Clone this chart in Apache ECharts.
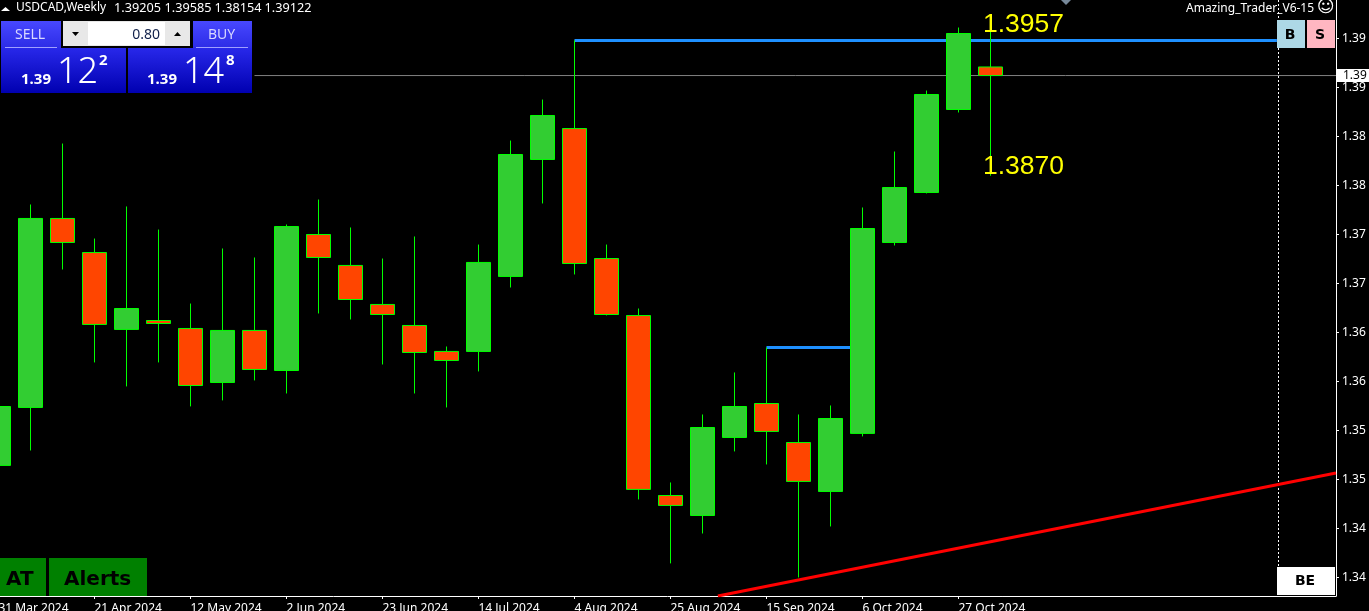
<!DOCTYPE html>
<html>
<head>
<meta charset="utf-8">
<title>USDCAD Weekly</title>
<style>
  html, body { margin: 0; padding: 0; background: #000; overflow: hidden; }
  #chart { width: 1369px; height: 611px; }
</style>
<script src="https://cdn.jsdelivr.net/npm/echarts@6/dist/echarts.min.js"></script>
</head>
<body>
<div id="chart"></div>
<script>
// Week index of each bar is its position in these arrays
const weeks = ['31 Mar 2024', '7 Apr 2024', '14 Apr 2024', '21 Apr 2024', '28 Apr 2024', '5 May 2024', '12 May 2024', '19 May 2024',
  '26 May 2024', '2 Jun 2024', '9 Jun 2024', '16 Jun 2024', '23 Jun 2024', '30 Jun 2024', '7 Jul 2024', '14 Jul 2024',
  '21 Jul 2024', '28 Jul 2024', '4 Aug 2024', '11 Aug 2024', '18 Aug 2024', '25 Aug 2024', '1 Sep 2024', '8 Sep 2024',
  '15 Sep 2024', '22 Sep 2024', '29 Sep 2024', '6 Oct 2024', '13 Oct 2024', '20 Oct 2024', '27 Oct 2024', '3 Nov 2024'];
const opens = [1.35355, 1.35915, 1.37741, 1.37412, 1.36669, 1.36755, 1.36678, 1.36156,
  1.36659, 1.36272, 1.37586, 1.37287, 1.36910, 1.36707, 1.36456, 1.36456,
  1.37181, 1.38311, 1.38610, 1.37354, 1.36803, 1.35064, 1.34871, 1.35625,
  1.35953, 1.35576, 1.35103, 1.35664, 1.37509, 1.37992, 1.38794, 1.39205];
const closes = [1.35924, 1.37741, 1.37509, 1.36717, 1.36871, 1.36726, 1.36127, 1.36659,
  1.36282, 1.37663, 1.37364, 1.36958, 1.36813, 1.36446, 1.36369, 1.37316,
  1.38359, 1.38736, 1.37306, 1.36813, 1.35123, 1.34968, 1.35721, 1.35924,
  1.35683, 1.35200, 1.35808, 1.37644, 1.38040, 1.38939, 1.39528, 1.39122];
const lows = [1.35355, 1.35499, 1.37248, 1.36350, 1.36118, 1.36350, 1.35925, 1.35983,
  1.36176, 1.36050, 1.36823, 1.36765, 1.36330, 1.36050, 1.35915, 1.36263,
  1.37074, 1.37886, 1.37200, 1.36804, 1.35026, 1.34408, 1.34697, 1.35490,
  1.35364, 1.34272, 1.34765, 1.35635, 1.37480, 1.37983, 1.38765, 1.38154];
const highs = [1.35924, 1.37876, 1.38465, 1.37547, 1.37857, 1.37634, 1.36919, 1.37451,
  1.37364, 1.37683, 1.37924, 1.37654, 1.37354, 1.37567, 1.36504, 1.37489,
  1.38494, 1.38890, 1.39461, 1.37489, 1.36871, 1.35190, 1.35847, 1.36253,
  1.36494, 1.35847, 1.35934, 1.37847, 1.38388, 1.38977, 1.39586, 1.39585];

const priceTicks = [1.39480, 1.39006, 1.38533, 1.38060, 1.37586, 1.37113, 1.36639, 1.36166, 1.35692, 1.35219, 1.34745, 1.34272];
const priceTickLabels = ['1.39', '1.39', '1.38', '1.38', '1.37', '1.37', '1.36', '1.36', '1.35', '1.35', '1.34', '1.34'];
const dateTicks = [0, 3, 6, 9, 12, 15, 18, 21, 24, 27, 30];
const headerPrices = ['1.39205', '1.39585', '1.38154', '1.39122'];

const bidPrice = 1.39122;
const upperLevel = [[18, 1.39461], [39.95, 1.39461]];
const lowerLevel = [[24, 1.36494], [27, 1.36494]];
const trendLine = [[22.48, 1.34093], [41.797, 1.35282]];
const bidLine = [[8, bidPrice], [41.797, bidPrice]];
const futureLine = [[40, 1.39852], [40, 1.34374]];

const GREEN_BODY = '#32cd32';
const WICK = '#00ff00';
const RED_BODY = '#ff4500';
const UI_FONT = '"Noto Sans", sans-serif';

const candleData = weeks.map((w, i) => [i, opens[i], closes[i], lows[i], highs[i]]);

const lineSeries = (data, color, width, type, z) => ({
  type: 'line',
  data: data,
  symbol: 'none',
  silent: true,
  animation: false,
  z: z,
  lineStyle: { color: color, width: width, type: type || 'solid' }
});

const label = (x, y, text, opts) => ({
  type: 'text',
  x: x,
  y: y,
  z: 20,
  silent: true,
  style: Object.assign({ text: text, fill: '#fff', font: '12px ' + UI_FONT, align: 'left', verticalAlign: 'middle' }, opts)
});

const box = (x, y, w, h, fill) => ({
  type: 'rect',
  x: x,
  y: y,
  z: 15,
  silent: true,
  shape: { x: 0, y: 0, width: w, height: h },
  style: { fill: fill }
});

const triangle = (points, fill) => ({
  type: 'polygon',
  z: 20,
  silent: true,
  shape: { points: points },
  style: { fill: fill }
});

const vGrad = (a, b) => new echarts.graphic.LinearGradient(0, 0, 0, 1, [{ offset: 0, color: a }, { offset: 1, color: b }]);

const chart = echarts.init(document.getElementById('chart'));

chart.setOption({
  animation: false,
  backgroundColor: '#000',
  grid: { left: -1.5, right: 33, top: 0, bottom: 15, outerBoundsMode: 'none' },
  xAxis: {
    type: 'value',
    min: 0,
    max: 41.796875,
    splitLine: { show: false },
    axisLine: { show: true, onZero: false, lineStyle: { color: '#fff', width: 1 } },
    axisTick: { show: true, length: 3, customValues: dateTicks, lineStyle: { color: '#fff' } },
    axisLabel: {
      customValues: dateTicks,
      formatter: v => weeks[v],
      color: '#fff',
      fontFamily: UI_FONT,
      fontSize: 12,
      align: 'left',
      margin: 7,
      hideOverlap: false
    }
  },
  yAxis: {
    type: 'value',
    position: 'right',
    min: 1.34093,
    max: 1.39852,
    splitLine: { show: false },
    axisLine: { show: true, onZero: false, lineStyle: { color: '#fff', width: 1 } },
    axisTick: { show: true, length: 3, customValues: priceTicks, lineStyle: { color: '#fff' } },
    axisLabel: {
      customValues: priceTicks,
      formatter: v => priceTickLabels[priceTicks.indexOf(v)],
      color: '#fff',
      fontFamily: UI_FONT,
      fontSize: 12,
      align: 'left',
      margin: 6,
      padding: [3, 0, 0, 0]
    }
  },
  series: [
    lineSeries(futureLine, '#fff', 1, [2, 2], 1),
    lineSeries(trendLine, '#ff0000', 3, 'solid', 2),
    lineSeries(bidLine, '#808080', 1, 'solid', 2),
    lineSeries(upperLevel, '#1e90ff', 3, 'solid', 3),
    lineSeries(lowerLevel, '#1e90ff', 3, 'solid', 3),
    {
      type: 'candlestick',
      data: candleData,
      encode: { x: 0, y: [1, 2, 3, 4] },
      barWidth: 24,
      silent: true,
      z: 5,
      itemStyle: {
        color: GREEN_BODY,
        color0: RED_BODY,
        borderColor: WICK,
        borderColor0: WICK,
        borderWidth: 1
      }
    }
  ],
  graphic: [
    // header line
    triangle([[1, 11], [10, 11], [5.5, 7]], '#fff'),
    label(16, 8, 'USDCAD,Weekly'),
    label(114, 8, headerPrices[0], { font: '12.7px ' + UI_FONT }),
    label(164.5, 8, headerPrices[1], { font: '12.7px ' + UI_FONT }),
    label(214.5, 8, headerPrices[2], { font: '12.7px ' + UI_FONT }),
    label(264.5, 8, headerPrices[3], { font: '12.7px ' + UI_FONT }),
    label(1186, 9, 'Amazing_Trader_V6-15'),
    label(1317, 8, '\u263A', { font: '17px "DejaVu Sans"' }),
    triangle([[1061, 0], [1071, 0], [1066, 5]], '#778899'),

    // one click trading panel
    box(1, 21, 60, 27, vGrad('#4848ff', '#2c2ce6')),
    box(193, 21, 59, 27, vGrad('#4848ff', '#2c2ce6')),
    box(1, 48, 125, 45, vGrad('#2828ea', '#0000b0')),
    box(128, 48, 124, 45, vGrad('#2828ea', '#0000b0')),
    box(5, 47, 52, 1, '#a0a0ff'),
    box(196, 47, 52, 1, '#a0a0ff'),
    box(62, 20, 129, 27, '#000'),
    box(63, 21, 127, 25, '#e8e8e8'),
    box(88, 22, 77, 23, '#fff'),
    triangle([[72, 32], [79, 32], [75.5, 36]], '#000'),
    triangle([[174, 36], [181, 36], [177.5, 32]], '#000'),
    label(15, 35, 'SELL', { fill: '#d8d8ff', font: '14px ' + UI_FONT }),
    label(208, 35, 'BUY', { fill: '#d8d8ff', font: '14px ' + UI_FONT }),
    label(160, 35, '0.80', { fill: '#10204a', font: '14px ' + UI_FONT, align: 'right' }),
    label(21, 80, '1.39', { font: 'bold 15px ' + UI_FONT }),
    label(57, 73, '12', { font: '300 36px ' + UI_FONT }),
    label(99, 61, '2', { font: 'bold 15px ' + UI_FONT }),
    label(147, 80, '1.39', { font: 'bold 15px ' + UI_FONT }),
    label(183, 73, '14', { font: '300 36px ' + UI_FONT }),
    label(226, 61, '8', { font: 'bold 15px ' + UI_FONT }),

    // buttons on the right
    box(1277, 20, 28, 28, '#add8e6'),
    box(1307, 20, 28, 28, '#ffb6c1'),
    box(1277, 567, 58, 28, '#fff'),
    label(1290, 35, 'B', { fill: '#000', font: 'bold 14px "DejaVu Sans"', align: 'center' }),
    label(1320, 35, 'S', { fill: '#000', font: 'bold 14px "DejaVu Sans"', align: 'center' }),
    label(1305, 581, 'BE', { fill: '#000', font: 'bold 14px "DejaVu Sans"', align: 'center' }),

    // bid price tag
    box(1337, 69, 32, 13, '#fff'),
    label(1343, 76, '1.39', { fill: '#000' }),

    // buttons bottom left
    box(0, 558, 46, 38, '#008000'),
    box(49, 558, 98, 38, '#008000'),
    label(6, 580, 'AT', { fill: '#000', font: 'bold 20px "DejaVu Sans"' }),
    label(64, 580, 'Alerts', { fill: '#000', font: 'bold 20px "DejaVu Sans"' }),

    // price callouts
    label(983, 25, '1.3957', { fill: '#ffff00', font: '26.5px "Liberation Sans"' }),
    label(983, 167, '1.3870', { fill: '#ffff00', font: '26.5px "Liberation Sans"' })
  ]
});
</script>
</body>
</html>
